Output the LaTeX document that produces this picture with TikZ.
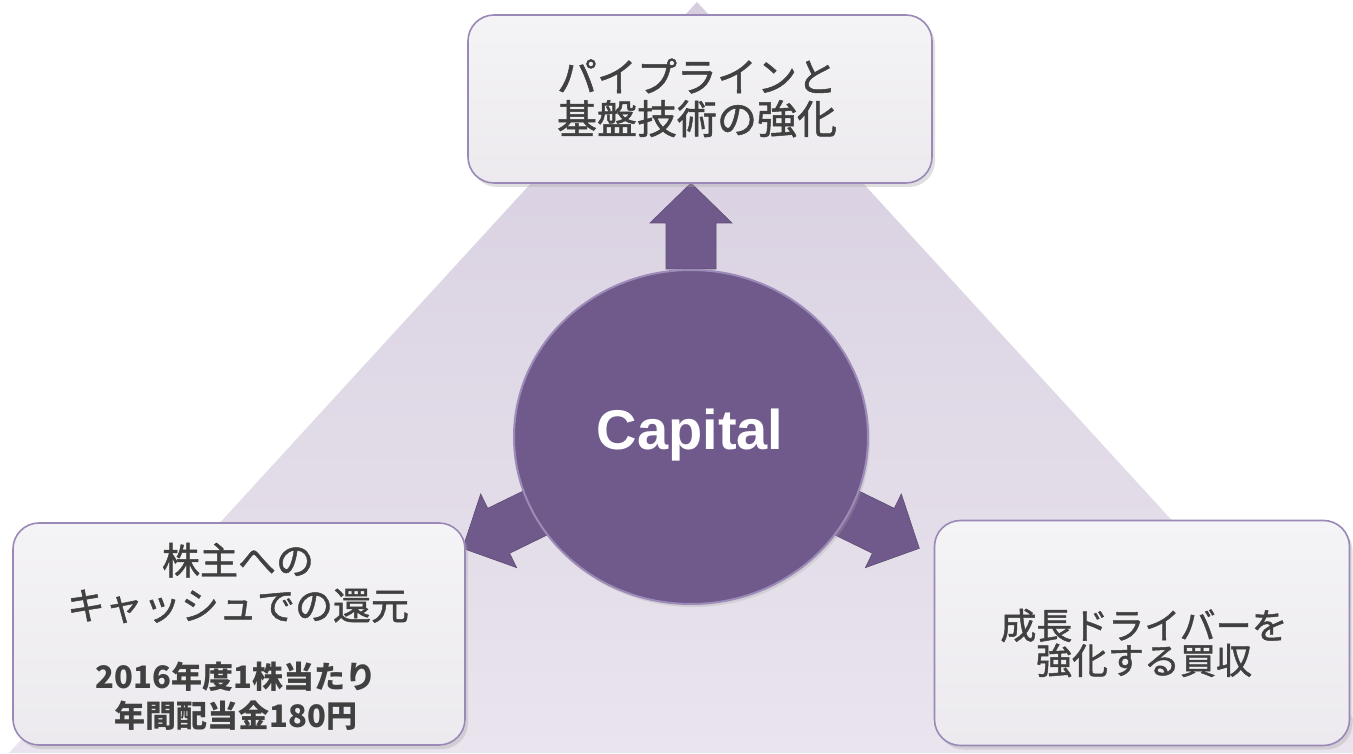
\documentclass[tikz,border=0pt]{standalone}
\usepackage{fontspec}
\setmainfont{Noto Sans CJK JP}
\newfontfamily\jpmed{Noto Sans CJK JP}[FakeBold=1.3]
\newfontfamily\capfont{Liberation Sans}
\usetikzlibrary{shapes.geometric,shadows}
\definecolor{triTop}{HTML}{D6CDDF}
\definecolor{triBot}{HTML}{E9E4ED}
\definecolor{purp}{HTML}{705A8B}
\definecolor{purpRim}{HTML}{9C8BB8}
\definecolor{boxEdge}{HTML}{9A88B6}
\definecolor{boxTop}{HTML}{F4F3F5}
\definecolor{boxBot}{HTML}{ECEAEE}
\definecolor{txt}{HTML}{404040}
\tikzset{
  card/.style={draw=boxEdge, line width=1.6pt, rounded corners=26pt,
    top color=boxTop, bottom color=boxBot, inner sep=0pt,
    drop shadow={shadow xshift=3pt, shadow yshift=-4pt, opacity=0.35, fill=gray!70}},
  cardtext/.style={text=txt, align=center, inner sep=0pt},
  bigarrow/.style={fill=purp, draw=purp!85!black, line width=0.6pt},
}
\begin{document}
\begin{tikzpicture}[x=1pt,y=1pt]
\useasboundingbox (0,0) rectangle (1353,753);
\fill[white] (0,0) rectangle (1353,753);
\begin{scope}
  \clip (0,0) rectangle (1353,753);
  \shade[top color=triTop, bottom color=triBot] (697,751) -- (9,0) -- (1385,0) -- cycle;
\end{scope}

% centre
\coordinate (c) at (691,316);

% arrows
\foreach \ang/\nm in {90/up, 206/left, -26/right}{
  \fill[bigarrow, shift={(c)}, rotate=\ang]
    (168,-25) -- (214,-25) -- (214,-41) -- (254,0) -- (214,41) -- (214,25) -- (168,25) -- cycle;
}

% circle
\node[ellipse, minimum width=354pt, minimum height=334pt, fill=purp, draw=purpRim,
      line width=2pt, inner sep=0pt,
      drop shadow={shadow xshift=2pt, shadow yshift=-3pt, opacity=0.3, fill=gray!70}] (cap) at (c) {};
\node[text=white, font=\capfont\bfseries\fontsize{56}{60}\selectfont] (captxt) at (690,318) {Capital};

% boxes
\node[card, minimum width=464pt, minimum height=168pt] (top) at (700,654) {};
\node[cardtext, font=\jpmed\fontsize{40}{42}\selectfont] (toptxt) at (697,655) {パイプラインと\\基盤技術の強化};

\node[card, minimum width=452pt, minimum height=222pt] (left) at (239,119) {};
\node[cardtext, font=\jpmed\fontsize{38}{45}\selectfont] (lefttxt) at (238,170) {株主への\\キャッシュでの還元};
\node[cardtext, font=\bfseries\fontsize{31}{39}\selectfont] (leftsub) at (236,57) {2016年度1株当たり\\年間配当金180円};

\node[card, minimum width=415pt, minimum height=225pt] (right) at (1142,120) {};
\node[cardtext, font=\jpmed\fontsize{36}{35}\selectfont] (righttxt) at (1144,110) {成長ドライバーを\\強化する買収};
\end{tikzpicture}
\end{document}
